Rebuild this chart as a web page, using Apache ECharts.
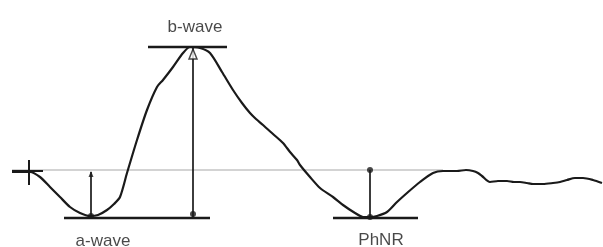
<!DOCTYPE html>
<html><head><meta charset="utf-8">
<script src="https://cdn.jsdelivr.net/npm/echarts@6/dist/echarts.min.js"></script>
<style>html,body{margin:0;padding:0;background:#fff}#c{width:603px;height:247px}</style>
</head><body><div id="c"></div>
<script>
// ERG trace (time units, amplitude units; baseline = 0)
const timeX = [12,22,30,40,50,60,70,80,90,98,107,114,120,127,137,147,157,163,173,183,190,200,210,222,233,242,250,256,263,273,283,290,297,300,310,320,333,343,355,363,370,377,387,397,407,420,433,443,457,466,473,478,482,490,498,507,514,520,527,533,543,553,560,567,575,583,593,602];
const ampY  = [-2,-2,-2,-7,-17,-27,-37,-43,-46,-45,-40,-34,-27,-3,30,60,83,90,103,117,123,122,117,98,80,67,57,51,45,36,27,18,10,5,-7,-18,-27,-35,-43,-47,-47,-46,-42,-32,-23,-12,-3,-1,-1,0,-1,-3,-6,-12,-11,-11,-12,-12,-13,-14,-14,-13,-12,-10,-8,-8,-10,-13];
// reference levels
const baseline = {x0: 12, x1: 443, y: 0};
const bWavePeak = {x0: 148, x1: 227, y: 123, arrowX: 193};
const aWaveTrough = {x0: 64, x1: 210, y: -48, arrowX: 91};
const phnrTrough = {x0: 333, x1: 418, y: -48, arrowX: 370};
const labels = [
  {name: 'b-wave', x: 195, y: 143},
  {name: 'a-wave', x: 103, y: -71},
  {name: 'PhNR', x: 381, y: -70}
];
const startMark = {x: 29, y: -1, hx0: 12, hx1: 43, vy0: 10, vy1: -15};

const seg = (pts, w, c) => ({type:'line', data: pts, symbol:'none', silent:true, animation:false,
  lineStyle:{width:w, color:c}, z: 3});

const series = [
  seg([[baseline.x0, baseline.y],[baseline.x1, baseline.y]], 1.2, '#a8a8a8'),
  {type:'line', data: timeX.map((x,i)=>[x, ampY[i]]), symbol:'none', smooth:0.25, animation:false,
   lineStyle:{width:2.2, color:'#1a1a1a'}, z:4},
  // start cross
  seg([[startMark.hx0, startMark.y],[startMark.hx1, startMark.y]], 2, '#1a1a1a'),
  seg([[startMark.x, startMark.vy0],[startMark.x, startMark.vy1]], 2, '#1a1a1a'),
  // horizontal level bars
  seg([[bWavePeak.x0, bWavePeak.y],[bWavePeak.x1, bWavePeak.y]], 2.4, '#1a1a1a'),
  seg([[aWaveTrough.x0, aWaveTrough.y],[aWaveTrough.x1, aWaveTrough.y]], 2.4, '#1a1a1a'),
  seg([[phnrTrough.x0, phnrTrough.y],[phnrTrough.x1, phnrTrough.y]], 2.4, '#1a1a1a'),
  // vertical measurement arrows
  seg([[bWavePeak.arrowX, aWaveTrough.y],[bWavePeak.arrowX, bWavePeak.y]], 1.7, '#1a1a1a'),
  seg([[aWaveTrough.arrowX, aWaveTrough.y],[aWaveTrough.arrowX, baseline.y - 2]], 1.7, '#1a1a1a'),
  seg([[phnrTrough.arrowX, phnrTrough.y],[phnrTrough.arrowX, baseline.y]], 1.7, '#1a1a1a'),
  // arrow heads / dots
  {type:'scatter', silent:true, animation:false, z:5, symbol:'triangle', symbolSize:[8,10],
   itemStyle:{color:'#fff', borderColor:'#1a1a1a', borderWidth:1.5},
   data:[[bWavePeak.arrowX, bWavePeak.y - 7]]},
  {type:'scatter', silent:true, animation:false, z:5, symbol:'triangle', symbolSize:[5,6],
   itemStyle:{color:'#1a1a1a'}, data:[[aWaveTrough.arrowX, baseline.y - 4]]},
  {type:'scatter', silent:true, animation:false, z:5, symbol:'circle', symbolSize:6,
   itemStyle:{color:'#1a1a1a'},
   data:[[phnrTrough.arrowX, baseline.y], [aWaveTrough.arrowX, aWaveTrough.y+2], [bWavePeak.arrowX, aWaveTrough.y+4], [phnrTrough.arrowX, phnrTrough.y+1]]},
  // labels
  {type:'scatter', silent:true, animation:false, symbolSize:0, z:6,
   data: labels.map(l=>({name:l.name, value:[l.x, l.y]})),
   label:{show:true, position:'inside', formatter:'{b}', fontFamily:'Liberation Sans', fontSize:17, color:'#1a1a1a'}}
];

const chart = echarts.init(document.getElementById('c'), null, {renderer:'canvas'});
chart.setOption({
  animation:false,
  grid:{left:0, right:0, top:0, bottom:0},
  xAxis:{type:'value', min:0, max:603, show:false},
  yAxis:{type:'value', min:-77, max:170, show:false},
  series
});
</script></body></html>
